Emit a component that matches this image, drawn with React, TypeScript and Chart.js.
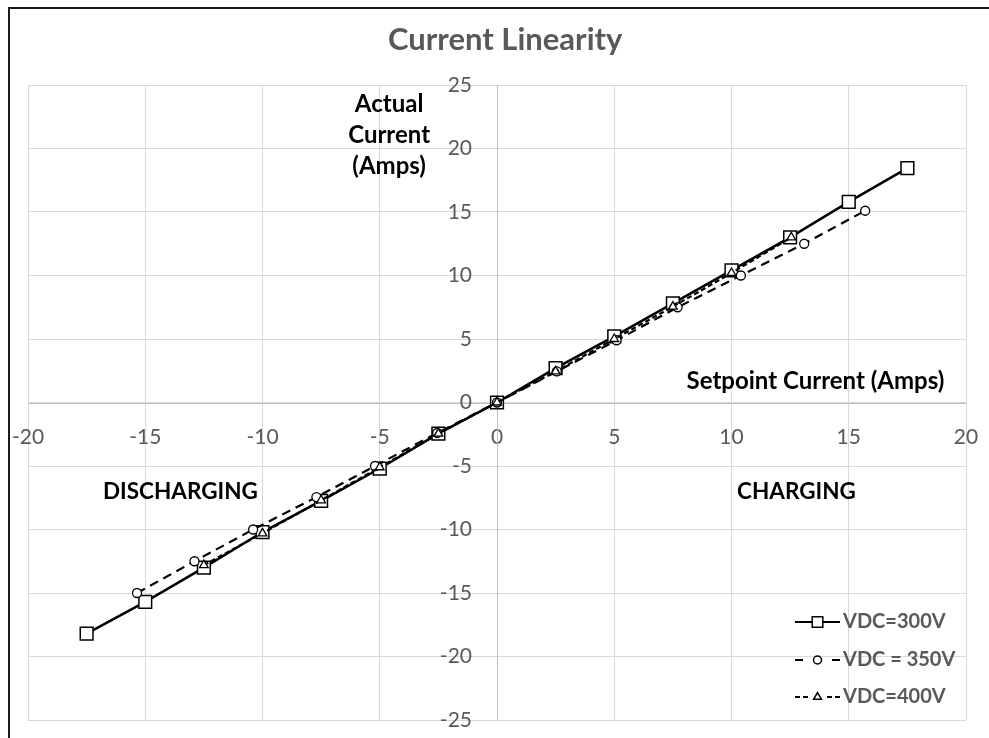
import React, { useEffect, useRef } from "react";
import { Chart, registerables } from "chart.js";
import { drawPoint } from "chart.js/helpers";

Chart.register(...registerables);

const TITLE = "Current Linearity";
const SERIES_LABELS = ["VDC=300V", "VDC = 350V", "VDC=400V"];

const SETPOINT_300 = [-17.5, -15, -12.5, -10, -7.5, -5, -2.5, 0, 2.5, 5, 7.5, 10, 12.5, 15, 17.5];
const ACTUAL_300 = [-18.2, -15.7, -13.0, -10.2, -7.75, -5.2, -2.45, 0, 2.7, 5.2, 7.8, 10.4, 13.0, 15.8, 18.45];

const SETPOINT_350 = [-15.35, -12.9, -10.4, -7.7, -5.2, -2.55, 0, 2.55, 5.1, 7.7, 10.4, 13.1, 15.7];
const ACTUAL_350 = [-15.0, -12.5, -10.0, -7.45, -5.0, -2.4, 0, 2.45, 4.9, 7.5, 10.0, 12.5, 15.1];

const SETPOINT_400 = [-12.5, -10, -7.5, -5, -2.5, 0, 2.5, 5, 7.5, 10, 12.55];
const ACTUAL_400 = [-12.8, -10.3, -7.7, -5.1, -2.45, 0, 2.45, 5.0, 7.55, 10.2, 13.0];

const X_MIN = -20;
const X_MAX = 20;
const Y_MIN = -25;
const Y_MAX = 25;
const TICK_STEP = 5;

const FONT = "Lato, 'Noto Sans', sans-serif";
const GRAY_TEXT = "#595959";

const toPoints = (xs: number[], ys: number[]) => xs.map((x, i) => ({ x, y: ys[i] }));

const annotationPlugin = {
  id: "annotations",
  beforeDraw(chart: any) {
    const ctx = chart.ctx;
    ctx.save();
    ctx.strokeStyle = "#1a1a1a";
    ctx.lineWidth = 2;
    ctx.strokeRect(9, 8, 1400, 1400);
    ctx.restore();
  },
  afterDraw(chart: any) {
    const ctx = chart.ctx;
    const xs = chart.scales.x;
    const ys = chart.scales.y;
    const px = (v: number) => xs.getPixelForValue(v);
    const py = (v: number) => ys.getPixelForValue(v);
    ctx.save();
    // title
    ctx.fillStyle = GRAY_TEXT;
    ctx.textAlign = "center";
    ctx.textBaseline = "middle";
    ctx.font = `bold 31px ${FONT}`;
    ctx.fillText(TITLE, px(0.35), chart.chartArea.top - 45);

    ctx.fillStyle = "#000";
    ctx.font = `bold 24px ${FONT}`;
    ctx.fillText("Actual", px(-4.6), py(23.5));
    ctx.fillText("Current", px(-4.6), py(21.05));
    ctx.fillText("(Amps)", px(-4.6), py(18.6));
    ctx.fillText("Setpoint Current (Amps)", px(13.58), py(1.65));
    ctx.font = `bold 22.5px ${FONT}`;
    ctx.fillText("DISCHARGING", px(-13.5), py(-7.05));
    ctx.fillText("CHARGING", px(12.77), py(-7.05));

    // legend
    const datasets = chart.data.datasets;
    const area = chart.chartArea;
    const lx0 = area.right - 171;
    const lx1 = area.right - 126;
    const rows = [area.bottom - 98, area.bottom - 60, area.bottom - 23];
    datasets.forEach((ds: any, i: number) => {
      const y = rows[i];
      ctx.save();
      ctx.strokeStyle = "#000";
      ctx.lineWidth = 2;
      ctx.setLineDash(ds.legendDash || []);
      ctx.beginPath();
      ctx.moveTo(lx0, y);
      ctx.lineTo(lx1, y);
      ctx.stroke();
      ctx.setLineDash([]);
      ctx.fillStyle = "#fff";
      ctx.strokeStyle = "#000";
      ctx.lineWidth = 1.5;
      drawPoint(ctx, { pointStyle: ds.pointStyle, radius: ds.legendRadius, rotation: 0, borderWidth: 1.5 }, (lx0 + lx1) / 2, y);
      ctx.restore();
      ctx.fillStyle = GRAY_TEXT;
      ctx.font = `bold 20px ${FONT}`;
      ctx.textAlign = "left";
      ctx.textBaseline = "middle";
      ctx.fillText(ds.label, lx1 + 3, y);
    });
    ctx.restore();
  },
};

export default function App() {
  const ref = useRef<HTMLCanvasElement | null>(null);
  useEffect(() => {
    if (!ref.current) return;
    const chart = new Chart(ref.current, {
      type: "scatter",
      data: {
        datasets: [
          {
            label: SERIES_LABELS[0],
            data: toPoints(SETPOINT_300, ACTUAL_300),
            showLine: true,
            borderColor: "#000",
            borderWidth: 2.5,
            pointStyle: "rect",
            pointRadius: 9,
            pointBackgroundColor: "#fff",
            pointBorderColor: "#000",
            pointBorderWidth: 1.5,
            order: 2,
            legendRadius: 7.5,
            legendDash: [],
          } as any,
          {
            label: SERIES_LABELS[1],
            data: toPoints(SETPOINT_350, ACTUAL_350),
            showLine: true,
            borderColor: "#000",
            borderWidth: 2.2,
            borderDash: [9, 6],
            pointStyle: "circle",
            pointRadius: 4.5,
            pointBackgroundColor: "#fff",
            pointBorderColor: "#000",
            pointBorderWidth: 1.3,
            order: 1,
            legendRadius: 4,
            legendDash: [8, 29],
          } as any,
          {
            label: SERIES_LABELS[2],
            data: toPoints(SETPOINT_400, ACTUAL_400),
            showLine: true,
            borderColor: "#000",
            borderWidth: 2.2,
            borderDash: [5, 3],
            pointStyle: "triangle",
            pointRadius: 5,
            pointBackgroundColor: "#fff",
            pointBorderColor: "#000",
            pointBorderWidth: 1.3,
            order: 0,
            legendRadius: 4.5,
            legendDash: [5, 3, 5, 19, 5, 3, 5, 100],
          } as any,
        ],
      },
      options: {
        responsive: false,
        animation: false,
        layout: { padding: { left: 28, right: 23, top: 85, bottom: 18 } },
        plugins: {
          legend: { display: false },
          tooltip: { enabled: false },
          title: { display: false },
        },
        scales: {
          x: {
            type: "linear",
            position: "center",
            min: X_MIN,
            max: X_MAX,
            afterFit: (s: any) => {
              s.height = 0;
              s.paddingLeft = 0;
              s.paddingRight = 0;
              s.paddingTop = 0;
              s.paddingBottom = 0;
            },
            ticks: {
              stepSize: TICK_STEP,
              autoSkip: false,
              maxRotation: 0,
              padding: 22,
              color: GRAY_TEXT,
              font: { family: FONT, size: 21 },
              callback: (v: any) => String(v),
            },
            grid: { color: "#d9d9d9", lineWidth: 1, drawTicks: false },
            border: { color: "#bfbfbf", width: 1 },
          },
          y: {
            type: "linear",
            position: "center",
            min: Y_MIN,
            max: Y_MAX,
            afterFit: (s: any) => {
              s.width = 0;
              s.paddingLeft = 0;
              s.paddingRight = 0;
              s.paddingTop = 0;
              s.paddingBottom = 0;
            },
            ticks: {
              stepSize: TICK_STEP,
              autoSkip: false,
              padding: 25,
              color: GRAY_TEXT,
              font: { family: FONT, size: 21 },
              callback: (v: any) => String(v),
            },
            grid: { color: "#d9d9d9", lineWidth: 1, drawTicks: false },
            border: { color: "#bfbfbf", width: 1 },
          },
        },
      },
      plugins: [annotationPlugin],
    });
    return () => chart.destroy();
  }, []);
  return (
    <div style={{ position: "absolute", left: 0, top: 0, width: 989, height: 738, background: "#fff" }}>
      <canvas ref={ref} width={989} height={738} style={{ width: 989, height: 738, display: "block" }} />
    </div>
  );
}
